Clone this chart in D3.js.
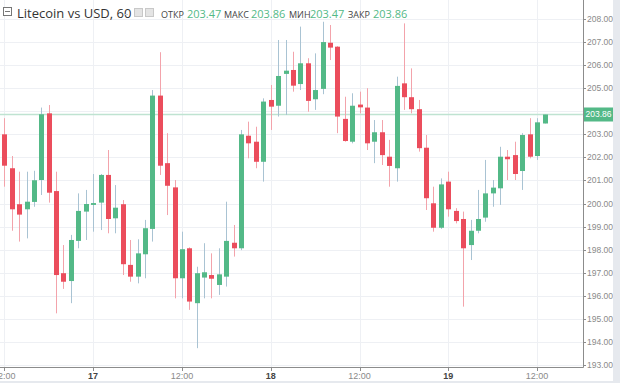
<!DOCTYPE html>
<html><head><meta charset="utf-8">
<script src="https://cdn.jsdelivr.net/npm/d3@7"></script>
<style>html,body{margin:0;padding:0;background:#fff;}svg{display:block;}</style>
</head><body>
<svg id="chart" width="620" height="383"></svg>
<script>
const openV  = [203.00,201.53,199.97,199.75,200.07,201.02,203.91,200.54,196.98,196.64,198.38,199.65,199.94,200.04,201.24,199.36,199.97,197.34,196.83,197.80,198.90,204.68,201.75,200.70,196.76,198.06,195.68,196.79,196.90,196.47,196.83,198.30,198.06,202.94,202.68,201.81,204.49,204.24,205.62,205.79,205.18,206.08,204.52,204.97,206.97,206.80,203.67,202.68,204.29,204.16,202.68,203.09,202.03,201.53,205.21,204.61,204.09,202.42,200.01,198.95,200.95,199.68,199.33,198.20,198.82,199.39,200.44,200.66,202.03,202.10,201.41,203.00,202.06,203.47];
const highV  = [203.70,202.06,201.38,201.38,201.42,204.16,204.27,201.38,198.20,198.64,200.44,200.59,201.28,201.28,202.32,200.80,200.15,198.42,198.45,199.29,204.92,206.56,203.05,201.02,198.78,198.10,197.26,198.28,197.84,198.06,200.08,199.07,203.19,203.55,203.33,204.56,205.14,207.09,207.09,206.58,207.67,206.30,206.51,207.88,207.74,206.82,204.63,204.78,204.85,205.00,203.62,203.62,202.76,205.50,207.81,205.86,204.49,202.97,200.73,201.09,201.38,199.80,199.65,199.29,200.59,201.89,201.02,202.46,202.32,202.68,203.05,203.70,203.70,203.86];
const lowV   = [200.73,198.82,198.35,198.49,199.86,200.37,200.04,195.24,196.30,195.68,198.06,198.42,198.78,198.85,198.71,198.71,196.90,196.61,196.54,196.76,198.35,201.24,199.50,195.89,195.89,195.39,193.73,195.89,195.89,196.04,196.40,197.70,197.98,201.96,201.53,200.95,203.19,203.77,203.84,204.85,204.92,203.98,204.06,204.74,206.22,203.05,202.68,202.61,203.91,202.32,201.75,201.67,200.73,200.95,204.06,203.91,202.25,199.72,198.78,198.90,199.43,199.14,195.53,197.55,198.71,199.21,199.86,199.94,201.02,201.02,200.59,201.96,201.89,203.47];
const closeV = [201.64,199.75,199.52,200.08,201.01,203.87,200.47,196.90,196.61,198.42,199.68,199.98,200.02,201.24,199.33,199.82,197.37,196.83,197.84,198.93,204.68,201.64,200.77,196.76,198.02,195.75,196.98,197.02,196.74,196.93,198.38,198.06,203.00,202.61,201.81,204.42,204.20,205.53,205.76,205.11,206.08,204.45,204.92,207.00,206.76,203.77,202.71,204.24,204.17,202.61,203.09,202.10,201.63,205.10,204.61,204.09,202.40,200.23,198.95,200.83,199.75,199.24,198.06,198.82,199.33,200.44,200.69,202.03,201.92,201.28,202.97,202.03,203.52,203.86];
const xTickIdx = [0,12,24,36,48,60,72];
const xTickLabels = ["12:00","17","12:00","18","12:00","19","12:00"];
const xTickBold = [false,true,false,true,false,true,false];
const yTicks = [193,194,195,196,197,198,199,200,201,202,203,204,205,206,207,208];
const lastPrice = 203.86;
const legendLabels = ["ОТКР","МАКС","МИН","ЗАКР"];
const legendValues = ["203.47","203.86","203.47","203.86"];

const GREEN = "#53b987", RED = "#eb4d5c";
const svg = d3.select("#chart");
const n = openV.length;
const x = d3.scaleLinear().domain([0, n-1]).range([4.3, 4.3 + (n-1)*7.4]);
const y = d3.scaleLinear().domain([193, 208]).range([365, 19]);
const plotR = 583, plotB = 367;

// grid
const g = svg.append("g");
g.selectAll("line.h").data(yTicks).enter().append("line")
  .attr("x1",0).attr("x2",plotR).attr("y1",d=>Math.round(y(d))+0.5).attr("y2",d=>Math.round(y(d))+0.5)
  .attr("stroke","#eef0f4").attr("stroke-width",1);
g.selectAll("line.v").data(xTickIdx).enter().append("line")
  .attr("x1",d=>Math.round(x(d))+0.5).attr("x2",d=>Math.round(x(d))+0.5).attr("y1",0).attr("y2",plotB)
  .attr("stroke","#eef0f4").attr("stroke-width",1);

// last price line
svg.append("line").attr("x1",0).attr("x2",plotR)
  .attr("y1",Math.round(y(lastPrice))+0.5).attr("y2",Math.round(y(lastPrice))+0.5)
  .attr("stroke","#bfe3d1").attr("stroke-width",1.5);

// candles
const data = d3.range(n).map(i=>({i,o:openV[i],h:highV[i],l:lowV[i],c:closeV[i]}));
const cg = svg.append("g");
cg.selectAll("line.w").data(data).enter().append("line")
  .attr("x1",d=>Math.round(x(d.i))+0.5).attr("x2",d=>Math.round(x(d.i))+0.5)
  .attr("y1",d=>y(d.h)).attr("y2",d=>y(d.l))
  .attr("stroke",d=>d.c>=d.o?"#a9c3d3":"#f3a3ab").attr("stroke-width",1);
cg.selectAll("rect.b").data(data).enter().append("rect")
  .attr("x",d=>Math.round(x(d.i))-2).attr("width",5)
  .attr("y",d=>y(Math.max(d.o,d.c)))
  .attr("height",d=>Math.max(1.5, Math.abs(y(d.o)-y(d.c))))
  .attr("fill",d=>d.c>=d.o?GREEN:RED);

// axes lines
svg.append("line").attr("x1",plotR+0.5).attr("x2",plotR+0.5).attr("y1",0).attr("y2",plotB+0.5).attr("stroke","#8c8c8c");
svg.append("line").attr("x1",0).attr("x2",plotR+0.5).attr("y1",plotB+0.5).attr("y2",plotB+0.5).attr("stroke","#8c8c8c");

// y axis ticks & labels (labels hidden where the price box sits)
const yLabelTicks = yTicks.filter(d => Math.abs(y(d) - y(lastPrice)) > 12);
const ya = svg.append("g");
ya.selectAll("line").data(yTicks).enter().append("line")
  .attr("x1",plotR).attr("x2",plotR+3).attr("y1",d=>Math.round(y(d))+0.5).attr("y2",d=>Math.round(y(d))+0.5).attr("stroke","#8c8c8c");
ya.selectAll("text").data(yLabelTicks).enter().append("text")
  .attr("x",plotR+4).attr("y",d=>y(d)+3).text(d=>d.toFixed(2))
  .attr("font-family","Liberation Sans, Arial, sans-serif").attr("font-size",8.5).attr("fill","#8a8a8a");

// price label box
svg.append("rect").attr("x",plotR+1).attr("y",y(lastPrice)-7).attr("width",29).attr("height",14).attr("fill",GREEN);
svg.append("text").attr("x",plotR+2.5).attr("y",y(lastPrice)+3).text(lastPrice.toFixed(2))
  .attr("font-family","Liberation Sans, Arial, sans-serif").attr("font-size",8.5).attr("fill","#fff");

// x axis ticks & labels
const xa = svg.append("g");
xa.selectAll("line").data(xTickIdx).enter().append("line")
  .attr("x1",d=>Math.round(x(d))+0.5).attr("x2",d=>Math.round(x(d))+0.5).attr("y1",plotB).attr("y2",plotB+4).attr("stroke","#8c8c8c");
xa.selectAll("text").data(xTickIdx).enter().append("text")
  .attr("x",d=>x(d)).attr("y",plotB+12).attr("text-anchor","middle")
  .text((d,k)=>xTickLabels[k])
  .attr("font-family","Liberation Sans, Arial, sans-serif").attr("font-size",9)
  .attr("font-weight",(d,k)=>xTickBold[k]?"bold":"normal")
  .attr("fill",(d,k)=>xTickBold[k]?"#444":"#8a8a8a");

// side strips
svg.append("rect").attr("x",613).attr("y",0).attr("width",7).attr("height",383).attr("fill","#e6e9ee");
svg.append("rect").attr("x",0).attr("y",381).attr("width",620).attr("height",2).attr("fill","#e6e9ee");

// header
const hd = svg.append("g");
hd.append("rect").attr("x",3.5).attr("y",7.5).attr("width",8).attr("height",8).attr("fill","#fff").attr("stroke","#777");
hd.append("line").attr("x1",5).attr("x2",10).attr("y1",11.5).attr("y2",11.5).attr("stroke","#777");
hd.append("text").attr("x",17).attr("y",18).text("Litecoin vs USD, 60")
  .attr("font-family","Open Sans, sans-serif").attr("font-size",13).attr("fill","#333");
hd.append("line").attr("x1",124).attr("x2",128).attr("y1",14.5).attr("y2",14.5).attr("stroke","#ccc");
hd.append("rect").attr("x",134.5).attr("y",8.5).attr("width",8).attr("height",8).attr("fill","#e4e4e4").attr("stroke","#c8c8c8");
hd.append("rect").attr("x",145.5).attr("y",8.5).attr("width",8).attr("height",8).attr("fill","#e4e4e4").attr("stroke","#c8c8c8");
const lx = [161,224,289,348];
const vx = [187,251,310,373];
legendLabels.forEach((t,k)=>{
  hd.append("text").attr("x",lx[k]).attr("y",18).text(t)
    .attr("font-family","Open Sans, sans-serif").attr("font-size",9).attr("fill","#444");
  hd.append("text").attr("x",vx[k]).attr("y",18).text(legendValues[k])
    .attr("font-family","Open Sans, sans-serif").attr("font-size",11).attr("fill",GREEN);
});
</script>
</body></html>
